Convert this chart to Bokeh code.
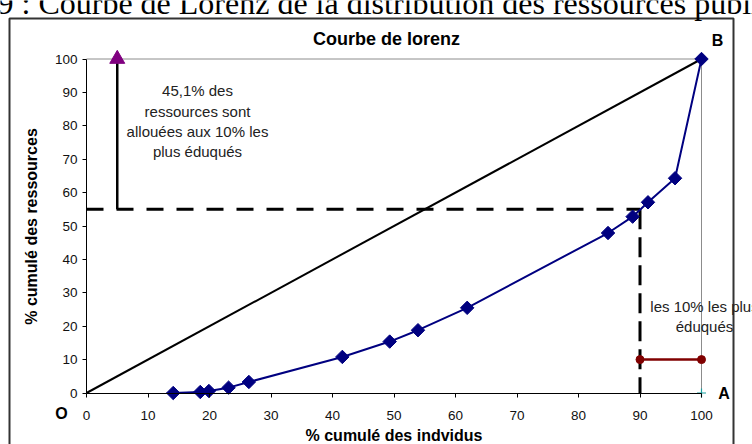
from bokeh.plotting import figure
from bokeh.models import Range1d, FixedTicker, Label
from bokeh.embed import file_html
from bokeh.resources import INLINE

# ---------------- data ----------------
lorenz_x = [14.1, 18.5, 19.9, 23.1, 26.4, 41.6, 49.3, 53.9, 61.9, 84.8, 88.8, 91.3, 95.7, 100.0]
lorenz_y = [0.0, 0.3, 0.6, 1.6, 3.3, 10.8, 15.4, 18.8, 25.5, 47.9, 52.8, 57.1, 64.3, 100.0]
equality_x = [0, 100]
equality_y = [0, 100]
share_dash_x = [0, 90]          # horizontal dashed line at 55 %
share_dash_y = [55, 55]
threshold_dash_x = [90, 90]     # vertical dashed line at 90 %
threshold_dash_y = [55, 0]
arrow_x = [5, 5]
arrow_y = [55, 100]
top10_x = [90, 100]
top10_y = [10, 10]
point_a_x = [100]
point_a_y = [0]
x_ticks = [0, 10, 20, 30, 40, 50, 60, 70, 80, 90, 100]
y_ticks = [0, 10, 20, 30, 40, 50, 60, 70, 80, 90, 100]

# ---------------- geometry (page pixels) ----------------
W, H = 752, 444
X0_PX, X100_PX = 86.0, 701.0
Y0_PX, Y100_PX = 392.5, 58.5
sx = (X100_PX - X0_PX) / 100.0
sy = (Y0_PX - Y100_PX) / 100.0


def fx(px):
    return (px - X0_PX) / sx


def fy(py):
    return (Y0_PX - py) / sy


SANS = "Liberation Sans"
SERIF = "Liberation Serif"

p = figure(width=W, height=H, x_range=Range1d(fx(0), fx(W)), y_range=Range1d(fy(H), fy(0)),
           output_backend="svg", toolbar_location=None,
           min_border_left=0, min_border_right=0, min_border_top=0, min_border_bottom=0)
p.outline_line_color = None
p.xgrid.visible = False
p.ygrid.visible = False
p.background_fill_color = "white"
p.border_fill_color = "white"

# axes (crossing at the origin)
for ax, ticks in ((p.xaxis, x_ticks), (p.yaxis, y_ticks)):
    ax.fixed_location = 0
    ax.bounds = (0, 100)
    ax.ticker = FixedTicker(ticks=ticks)
    ax.minor_tick_line_color = None
    ax.major_tick_in = 0
    ax.major_tick_out = 4
    ax.axis_line_color = "black"
    ax.major_tick_line_color = "black"
    ax.major_label_text_font = SANS
    ax.major_label_text_font_size = "13.5px"
    ax.major_label_text_color = "#111111"
    ax.axis_label_text_font = SANS
    ax.axis_label_text_font_style = "bold"
    ax.axis_label_text_font_size = "16px"
    ax.axis_label_text_color = "black"

p.xaxis.major_label_standoff = 14
p.xaxis.axis_label = "% cumulé des indvidus"
p.xaxis.axis_label_standoff = 3
p.yaxis.major_label_standoff = 5
p.yaxis.axis_label = "% cumulé des ressources"
p.yaxis.axis_label_standoff = 12

# outer chart frame (runs past the bottom of the picture)
p.line([fx(9), fx(9), fx(733), fx(733)], [fy(470), fy(18), fy(18), fy(470)],
       line_color="#333333", line_width=2)

# plot-area border (top and right, grey)
p.line([0, 100], [100, 100], line_color="#8c8c8c", line_width=1)
p.line([100, 100], [0, 100], line_color="#8c8c8c", line_width=1)

# equality line
p.line(equality_x, equality_y, line_color="black", line_width=2)

# dashed guides
p.line(share_dash_x, share_dash_y, line_color="black", line_width=3, line_dash="17 13")
p.line(threshold_dash_x, threshold_dash_y, line_color="black", line_width=3, line_dash="20 8")

# arrow up to 100
p.line(arrow_x, arrow_y, line_color="black", line_width=2.5)
p.scatter([arrow_x[1]], [arrow_y[1]], marker="triangle", size=15,
          fill_color="#800080", line_color="#800080")

# Lorenz curve
p.line(lorenz_x, lorenz_y, line_color="#000080", line_width=2)
p.scatter(lorenz_x, lorenz_y, marker="square", angle=0.785398, size=9.5,
          fill_color="#000080", line_color="#000080")

# top 10% bracket
p.line(top10_x, top10_y, line_color="#800000", line_width=2.5)
p.scatter(top10_x, top10_y, marker="circle", size=8, fill_color="#800000", line_color="#800000")

# point A marker
p.scatter(point_a_x, point_a_y, marker="cross", size=9, line_color="#1aa0a0", line_width=1.2)


def lab(text, px, py, size, bold=False, align="center", baseline="middle", font=SANS, color="black"):
    p.add_layout(Label(x=fx(px), y=fy(py), text=text, text_font=font, text_font_size=size,
                       text_font_style="bold" if bold else "normal", text_align=align,
                       text_baseline=baseline, text_color=color))


# document caption (cropped at the top of the picture)
lab("9 : Courbe de Lorenz de la distribution des ressources publiques", -3, 2, "32px",
    align="left", baseline="alphabetic", font=SERIF)

lab("Courbe de lorenz", 386, 38, "18px", bold=True)
lab("B", 717, 40, "16px", bold=True)
lab("A", 723.5, 392.5, "16px", bold=True)
lab("O", 61, 413, "16px", bold=True)

for txt, yy in (("45,1% des", 90), ("ressources sont", 111), ("allouées aux 10% les", 131),
                ("plus éduqués", 151)):
    lab(txt, 197, yy, "15px", color="#222222")

lab("les 10% les plus", 704, 306, "15px", color="#222222")
lab("éduqués", 704, 326, "15px", color="#222222")

open("out.html", "w").write(file_html(p, INLINE))
